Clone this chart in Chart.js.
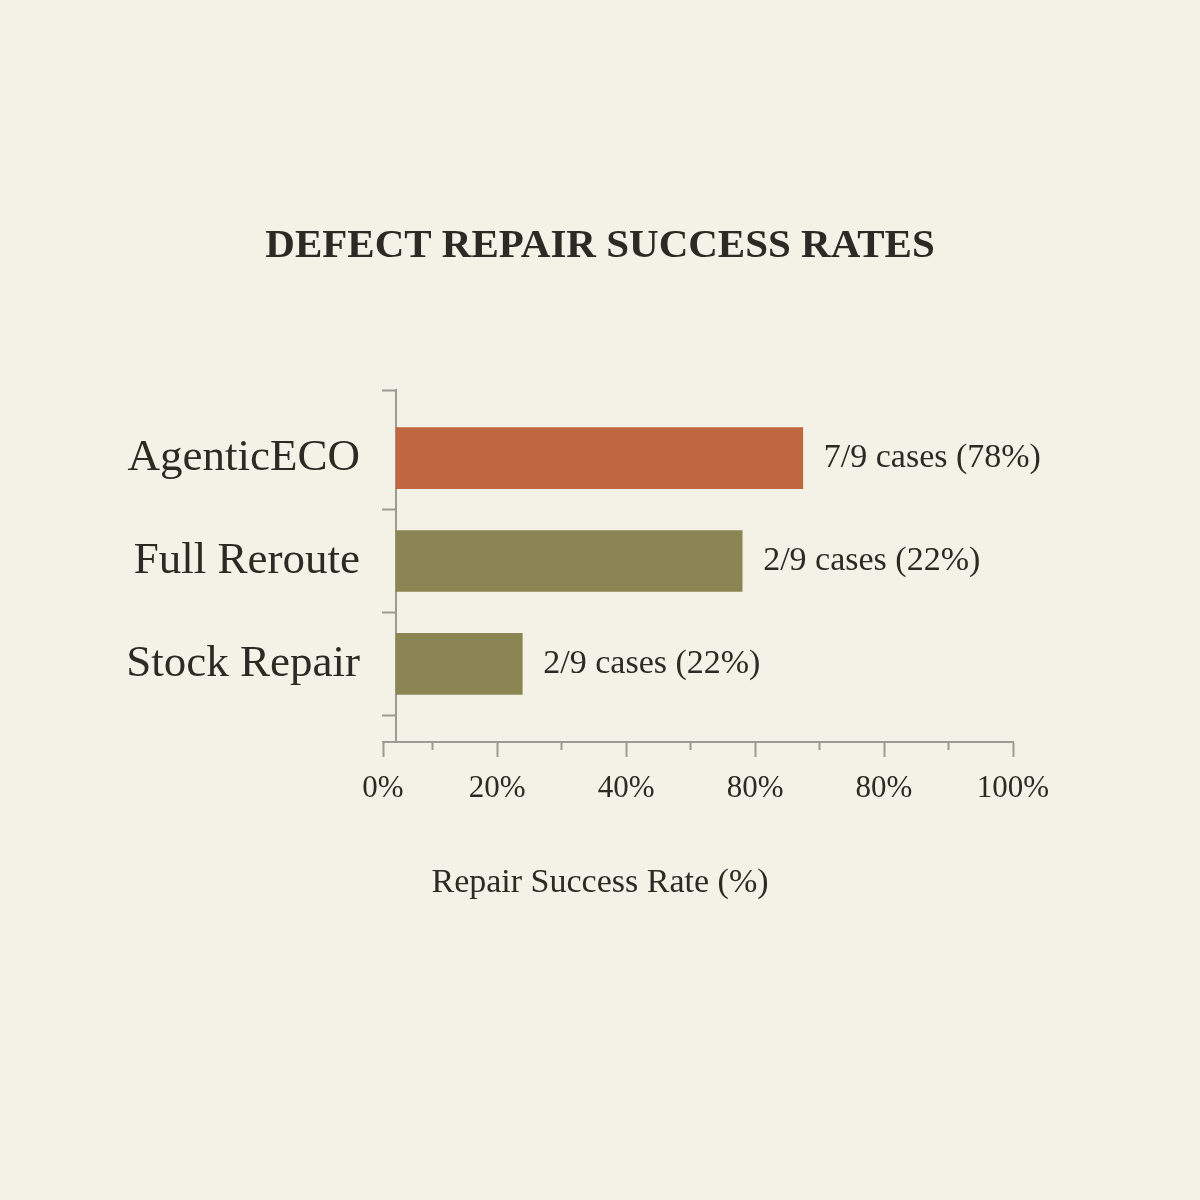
<!DOCTYPE html>
<html>
<head>
<meta charset="utf-8">
<script src="https://cdn.jsdelivr.net/npm/chart.js@4.4.1/dist/chart.umd.min.js"></script>
<style>
  html, body { margin: 0; padding: 0; background: #f4f1e7; }
  #wrap { width: 1200px; height: 1200px; }
</style>
</head>
<body>
<div id="wrap"><canvas id="repairs"></canvas></div>
<script>
'use strict';

// values
const methods = ['AgenticECO', 'Full Reroute', 'Stock Repair'];
const successRate = [67.4, 58.0, 23.9];
const caseLabels = ['7/9 cases (78%)', '2/9 cases (22%)', '2/9 cases (22%)'];
const majorTickValues = [0, 20, 40, 60, 80, 100];
const majorTickLabels = ['0%', '20%', '40%', '80%', '80%', '100%'];
const minorTickValues = [10, 30, 50, 70, 90];

const SERIF = '"Liberation Serif", "DejaVu Serif", serif';
const TEXT = '#2d2a26';
const AXIS_GRAY = '#9c9a95';
const barColors = ['#c0673f', '#8a8553', '#8a8553'];

// the axis starts a little right of true zero, the bars a little further
const X_MIN = 2.3;
const BAR_BASE = 4.3;
const Y_MIN = -0.66;
const Y_MAX = 2.76;

const barValueLabels = {
  id: 'barValueLabels',
  afterDatasetsDraw(chart) {
    const ctx = chart.ctx;
    const meta = chart.getDatasetMeta(0);
    ctx.save();
    ctx.font = '34px ' + SERIF;
    ctx.fillStyle = TEXT;
    ctx.textAlign = 'left';
    ctx.textBaseline = 'middle';
    meta.data.forEach((bar, i) => {
      ctx.fillText(caseLabels[i], bar.x + 21, bar.y);
    });
    ctx.restore();
  }
};

const yRange = {
  type: 'linear',
  reverse: true,
  offset: false,
  bounds: 'data',
  min: Y_MIN,
  max: Y_MAX,
};

new Chart(document.querySelector('#repairs'), {
  type: 'bar',
  data: {
    datasets: [
      {
        data: successRate.map((v, i) => ({ x: v, y: i })),
        backgroundColor: barColors,
        borderWidth: 0,
        barThickness: 61,
        base: BAR_BASE,
      }
    ]
  },
  options: {
    indexAxis: 'y',
    responsive: true,
    maintainAspectRatio: false,
    animation: false,
    layout: {
      padding: { left: 0, right: 0, top: 0, bottom: 287 }
    },
    scales: {
      x: {
        type: 'linear',
        position: 'bottom',
        bounds: 'data',
        min: X_MIN,
        max: 100,
        afterBuildTicks: (scale) => {
          scale.ticks = majorTickValues.map((v) => ({ value: Math.max(v, X_MIN) }));
        },
        afterFit: (scale) => {
          // leave room on the right for the value labels
          scale.paddingRight = 187;
        },
        ticks: {
          autoSkip: false,
          maxRotation: 0,
          padding: 13,
          color: TEXT,
          font: { family: SERIF, size: 31 },
          callback: (value, index) => majorTickLabels[index],
        },
        grid: {
          drawOnChartArea: false,
          tickLength: 15,
          tickWidth: 2,
          tickColor: AXIS_GRAY,
        },
        border: { color: AXIS_GRAY, width: 2 },
      },
      xMinor: {
        type: 'linear',
        axis: 'x',
        position: { y: Y_MAX },
        bounds: 'data',
        min: X_MIN,
        max: 100,
        afterBuildTicks: (scale) => {
          scale.ticks = minorTickValues.map((v) => ({ value: v }));
        },
        ticks: { display: false },
        grid: {
          drawOnChartArea: false,
          offset: false,
          tickLength: 8,
          tickWidth: 2,
          tickColor: AXIS_GRAY,
        },
        border: { display: false },
      },
      // category names, left of the plot
      y: {
        ...yRange,
        position: 'left',
        afterBuildTicks: (scale) => {
          scale.ticks = methods.map((m, i) => ({ value: i }));
        },
        afterFit: (scale) => {
          scale.width = 383;
        },
        ticks: {
          autoSkip: false,
          padding: 23,
          color: TEXT,
          font: { family: SERIF, size: 45 },
          callback: (value) => methods[value],
        },
        grid: { display: false, drawTicks: false, offset: false },
        border: { display: false },
      },
      // the vertical axis line with its boundary ticks, at the bar base
      yLine: {
        ...yRange,
        axis: 'y',
        position: { x: BAR_BASE },
        afterBuildTicks: (scale) => {
          scale.ticks = [Y_MIN, 0.5, 1.5, 2.5].map((v) => ({ value: v }));
        },
        ticks: { display: false },
        grid: {
          drawOnChartArea: false,
          offset: false,
          tickLength: 13,
          tickWidth: 2,
          tickColor: AXIS_GRAY,
        },
        border: { color: AXIS_GRAY, width: 2 },
      },
    },
    plugins: {
      legend: { display: false },
      tooltip: { enabled: false },
      title: {
        display: true,
        text: 'DEFECT REPAIR SUCCESS RATES',
        color: TEXT,
        font: { family: SERIF, size: 41, weight: 'bold' },
        padding: { top: 222, bottom: 119 },
      },
      subtitle: {
        display: true,
        position: 'bottom',
        text: 'Repair Success Rate (%)',
        color: TEXT,
        font: { family: SERIF, size: 34 },
        padding: { top: 42, bottom: 10 },
      },
    },
  },
  plugins: [barValueLabels],
});
</script>
</body>
</html>
